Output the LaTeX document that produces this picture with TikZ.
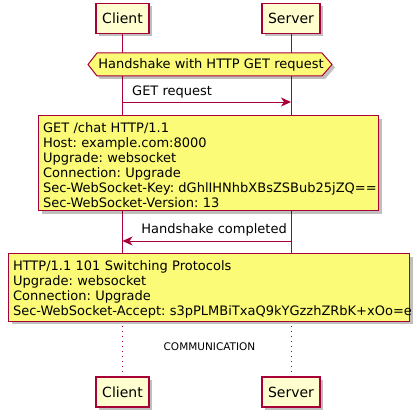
\documentclass[tikz,border=0pt]{standalone}
\usepackage{fontspec}
\setmainfont{DejaVu Sans}
\usetikzlibrary{arrows.meta,shadows,positioning}
\definecolor{umlred}{HTML}{A80036}
\definecolor{partfill}{HTML}{FEFECE}
\definecolor{notefill}{HTML}{FBFB77}
\frenchspacing
\tikzset{
  umlshadow/.style={drop shadow={shadow xshift=3pt,shadow yshift=-3pt,fill=black,opacity=0.25}},
  party/.style={draw=umlred,line width=1.5pt,fill=partfill,umlshadow,minimum height=30pt,inner xsep=6pt,font=\fontsize{14}{16}\selectfont},
  note/.style={draw=umlred,line width=1pt,fill=notefill,umlshadow,align=left,inner xsep=4.5pt,inner ysep=3pt,font=\fontsize{13}{15}\selectfont,anchor=north west},
  life/.style={umlred,line width=1pt},
  msg/.style={umlred,line width=1pt,-{Stealth[length=10pt,width=9pt,inset=3pt]}},
  msglabel/.style={font=\fontsize{13}{15}\selectfont,inner sep=0pt},
}
\begin{document}
\begin{tikzpicture}[x=1pt,y=-1pt]
  \useasboundingbox (0,0) rectangle (419,417);
  \node[party] (client) at (122.5,18.3) {Client};
  \node[party] (server) at (291,18.3) {Server};
  \node[party] (clientb) at (122.5,392) {Client};
  \node[party] (serverb) at (291,392) {Server};

  \coordinate (cend) at (122.5,321);
  \coordinate (send) at (291,321);
  \draw[life] (client.south)--(cend);
  \draw[life] (server.south)--(send);
  \draw[life,dash pattern=on 1pt off 4pt] (cend)--(clientb.north);
  \draw[life,dash pattern=on 1pt off 4pt] (send)--(serverb.north);

  % handshake group
  \draw[umlred,line width=1pt,fill=notefill,umlshadow] (88,64.5)--(97,53)--(322,53)--(332,64.5)--(322,76)--(97,76)--cycle;
  \node[msglabel] (hs) at (211,64.5) {Handshake with HTTP GET request};

  \coordinate (get1) at (122.5,102);
  \coordinate (get2) at (291,102);
  \draw[msg] (get1)--(get2);
  \node[msglabel,anchor=west] (getlbl) at (132,92) {GET request};

  \node[note,text width=331pt] (req) at (38,115) {\rule{0pt}{14pt}GET /chat HTTP/1.1\\
    Host: example.com:8000\\
    Upgrade: websocket\\
    Connection: Upgrade\\
    \mbox{Sec-WebSocket-Key: dGhlIHNhbXBsZSBub25jZQ==}\\
    Sec-WebSocket-Version: 13};

  \coordinate (done1) at (291,241);
  \coordinate (done2) at (122.5,241);
  \draw[msg] (done1)--(done2);
  \node[msglabel,anchor=east] (donelbl) at (287,230) {Handshake completed};

  \node[note,text width=392pt] (resp) at (8,253) {\rule{0pt}{14pt}HTTP/1.1 101 Switching Protocols\\
    Upgrade: websocket\\
    Connection: Upgrade\\
    \mbox{Sec-WebSocket-Accept: s3pPLMBiTxaQ9kYGzzhZRbK+xOo=e}};

  \node[font=\fontsize{10.5}{12}\selectfont] (delay) at (209.5,347) {COMMUNICATION};
\end{tikzpicture}
\end{document}
